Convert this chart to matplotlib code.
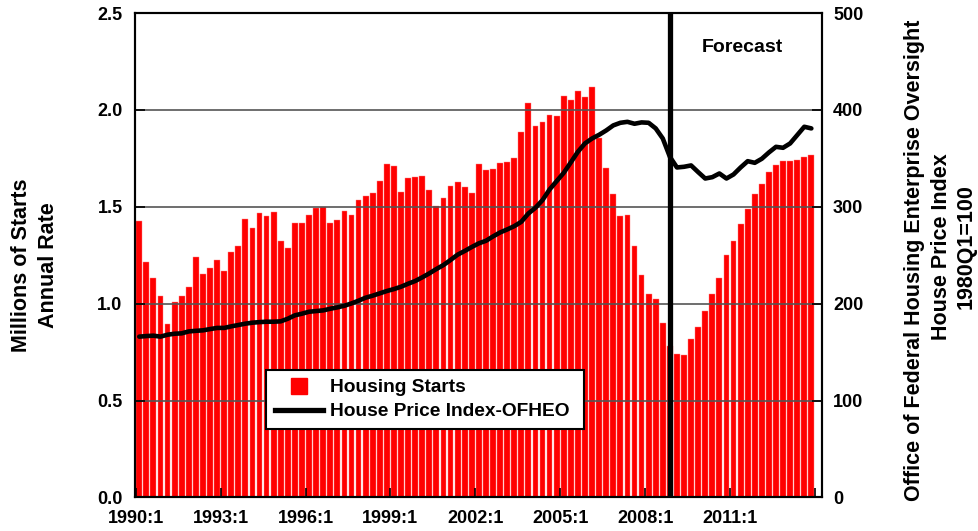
import matplotlib
matplotlib.use('Agg')
import matplotlib.pyplot as plt
from matplotlib.lines import Line2D
import numpy as np

plt.rcParams['font.family'] = ['Liberation Sans', 'DejaVu Sans']
plt.rcParams['font.weight'] = 'bold'

# quarterly categories 1990:1 .. 2013:4
quarters = [f"{y}:{q}" for y in range(1990, 2014) for q in range(1, 5)]

# housing starts, millions (annual rate)
starts = [
    1.426, 1.213, 1.132, 1.042,
    0.894, 1.010, 1.042, 1.085,
    1.240, 1.152, 1.183, 1.228,
    1.168, 1.266, 1.299, 1.435,
    1.392, 1.467, 1.455, 1.472,
    1.324, 1.287, 1.417, 1.417,
    1.460, 1.495, 1.498, 1.416,
    1.433, 1.478, 1.457, 1.533,
    1.558, 1.572, 1.631, 1.722,
    1.710, 1.576, 1.650, 1.655,
    1.658, 1.586, 1.502, 1.545,
    1.605, 1.629, 1.600, 1.571,
    1.721, 1.689, 1.696, 1.728,
    1.733, 1.752, 1.888, 2.034,
    1.917, 1.936, 1.976, 1.966,
    2.071, 2.050, 2.100, 2.067,
    2.119, 1.854, 1.701, 1.568,
    1.451, 1.456, 1.297, 1.150,
    1.051, 1.024, 0.901, 0.780,
    0.741, 0.736, 0.817, 0.882,
    0.960, 1.051, 1.134, 1.251,
    1.325, 1.411, 1.490, 1.564,
    1.620, 1.679, 1.718, 1.736,
    1.736, 1.743, 1.756, 1.765,
]

# OFHEO house price index, 1980Q1=100
hpi = [
    166.0, 166.6, 167.0, 166.0,
    168.0, 169.0, 169.4, 171.4,
    172.0, 172.5, 173.8, 175.0,
    175.0, 176.6, 178.0, 179.4,
    180.4, 181.0, 181.4, 181.4,
    181.8, 184.5, 188.0, 189.7,
    191.7, 192.4, 193.1, 194.8,
    196.2, 197.9, 200.3, 203.1,
    206.2, 208.3, 210.7, 213.1,
    215.1, 217.5, 220.6, 223.4,
    227.2, 231.3, 235.8, 239.9,
    245.1, 250.6, 254.4, 258.5,
    262.3, 264.9, 269.4, 273.5,
    276.6, 280.0, 284.5, 293.1,
    299.0, 306.9, 317.9, 326.5,
    335.1, 345.8, 356.8, 365.4,
    370.5, 374.3, 378.8, 384.0,
    386.7, 387.7, 385.7, 387.1,
    386.7, 380.9, 370.5, 351.6,
    340.6, 341.3, 342.7, 335.8,
    329.2, 330.6, 334.4, 329.2,
    333.4, 340.6, 347.1, 345.4,
    349.6, 356.1, 361.9, 360.9,
    365.4, 374.0, 382.6, 380.9,
]

forecast_at = "2008:4"
tick_labels = quarters[::12] + [""]

x = np.arange(len(quarters))

fig = plt.figure(figsize=(9.79, 5.31), dpi=100)
ax = fig.add_axes([0.1379, 0.0631, 0.7017, 0.9124])

ax.bar(x, starts, width=0.82, color='#ff0000', edgecolor='#ff8080', linewidth=0.3)
ax.set_xlim(-0.6, 96.5)
ax.set_ylim(0, 2.5)
ax.set_yticks(np.arange(0, 2.51, 0.5))
ax.set_yticklabels([f"{v:.1f}" for v in np.arange(0, 2.51, 0.5)])
ax.set_xticks(np.arange(0, 97, 12) - 0.5)
ax.set_xticklabels(tick_labels)
ax.set_axisbelow(False)
ax.yaxis.grid(True, color='#555555', linewidth=1.2)
ax.tick_params(axis='y', direction='in', length=7, width=1.2, labelsize=13, pad=9)
ax.tick_params(axis='x', direction='in', length=6.5, width=1.2, labelsize=13, pad=9)
ax.tick_params(axis='y', which='both', right=False)

ax.axvline(quarters.index(forecast_at), color='k', lw=3.8, zorder=4)
ax.text(85.2, 2.32, 'Forecast', ha='center', va='center', fontsize=14, fontweight='bold')

ax2 = ax.twinx()
ax2.plot(x, hpi, color='k', lw=3.3, solid_joinstyle='round', solid_capstyle='round')
ax2.set_ylim(0, 500)
ax2.set_yticks(np.arange(0, 501, 100))
ax2.tick_params(axis='y', direction='in', length=7, width=1.2, labelsize=13, pad=8)

for a in (ax, ax2):
    for s in a.spines.values():
        s.set_color('k')
        s.set_linewidth(1.5)

handles = [
    Line2D([], [], marker='s', color='#ff0000', ls='none', markersize=11.5),
    Line2D([], [], color='k', lw=3.8),
]
leg = ax2.legend(handles, ['Housing Starts', 'House Price Index-OFHEO'],
                 loc='lower left', bbox_to_anchor=(0.1907, 0.1414, 0.4629, 0.12),
                 mode='expand', borderaxespad=0, fancybox=False, edgecolor='k',
                 framealpha=1, fontsize=13.8, handlelength=2.5, handletextpad=0.4,
                 labelspacing=0.35, borderpad=0.45)
leg.get_frame().set_linewidth(1.5)

fig.text(0.0355, 0.501, 'Millions of Starts\nAnnual Rate', rotation=90,
         ha='center', va='center', fontsize=15.5, fontweight='bold', linespacing=1.4)
fig.text(914.5 / 979, 1 - 260 / 531, 'Office of Federal Housing Enterprise Oversight',
         rotation=90, ha='center', va='center', fontsize=15.5, fontweight='bold')
fig.text(954 / 979, 1 - 247 / 531, 'House Price Index\n1980Q1=100',
         rotation=90, ha='center', va='center', fontsize=15.5, fontweight='bold',
         linespacing=1.25)

fig.savefig('out.png', dpi=100)
